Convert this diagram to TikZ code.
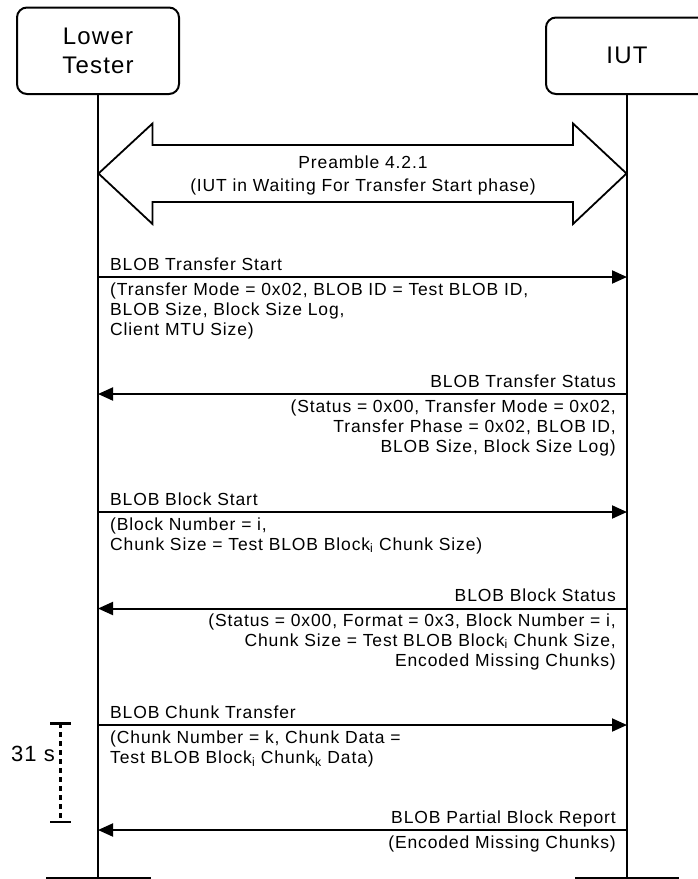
\documentclass[tikz,border=0pt]{standalone}
\usepackage{fontspec}
\setmainfont{Liberation Sans}[LetterSpace=5]
\usetikzlibrary{arrows.meta}
\newcommand\sbs[1]{\textsubscript{#1}}
\begin{document}
\begin{tikzpicture}[x=1pt,y=-1pt,
  entity/.style={draw,line width=2pt,rounded corners=10pt,inner sep=0pt,
    align=center,font=\fontsize{24}{29.3}\selectfont},
  lifeline/.style={line width=2pt},
  msgarrow/.style={line width=2pt,-{Triangle[length=15pt,width=13pt]}},
  lbl/.style={inner sep=0pt,font=\fontsize{17.5}{20}\selectfont},
  bar/.style={line width=2.6pt},
  timerline/.style={line width=2.4pt,dash pattern=on 5pt off 4pt},
  timercap/.style={line width=2.4pt}]
\useasboundingbox (0,0) rectangle (698,879);
\fill[white] (0,0) rectangle (698,879);
% entities
\node[entity,minimum width=162pt,minimum height=86.5pt] (lt) at (98,50.75) {Lower\\Tester};
\node[entity,minimum width=162pt,minimum height=76.5pt] (iut) at (627,55.75) {IUT};
\coordinate (ltend) at (98,879);
\coordinate (iutend) at (627,879);
\draw[lifeline] (lt.south) -- (ltend);
\draw[lifeline] (iut.south) -- (iutend);
% bottom bars
\coordinate (lb1) at (46,878.3); \coordinate (lb2) at (151,878.3);
\coordinate (rb1) at (575,878.3); \coordinate (rb2) at (679,878.3);
\draw[bar] (lb1) -- (lb2);
\draw[bar] (rb1) -- (rb2);
% preamble double arrow
\draw[line width=1.8pt,line join=miter] (98.5,173.5) -- (152.5,123.5) -- (152.5,145) -- (573,145) -- (573,123.5)
  -- (626.5,173.5) -- (573,224) -- (573,202) -- (152.5,202) -- (152.5,224) -- cycle;
\node[lbl,anchor=base] (pre) at (363,168.5) {\begin{tabular}[t]{@{}c@{}}Preamble 4.2.1\\[3pt](IUT in Waiting For Transfer Start phase)\end{tabular}};
% message 1
\coordinate (m1l) at (98,277); \coordinate (m1r) at (627,277);
\draw[msgarrow] (m1l) -- (m1r);
\node[lbl,anchor=base west] (m1t) at (110,270) {BLOB Transfer Start};
\node[lbl,anchor=base west] (m1p) at (110,295.5) {\begin{tabular}[t]{@{}l@{}}(Transfer Mode = 0x02, BLOB ID = Test BLOB ID,\\BLOB Size, Block Size Log,\\Client MTU Size)\end{tabular}};
% message 2
\coordinate (m2l) at (98,394); \coordinate (m2r) at (627,394);
\draw[msgarrow] (m2r) -- (m2l);
\node[lbl,anchor=base east] (m2t) at (616,387) {BLOB Transfer Status};
\node[lbl,anchor=base east] (m2p) at (616,412) {\begin{tabular}[t]{@{}r@{}}(Status = 0x00, Transfer Mode = 0x02,\\Transfer Phase = 0x02, BLOB ID,\\BLOB Size, Block Size Log)\end{tabular}};
% message 3
\coordinate (m3l) at (98,512); \coordinate (m3r) at (627,512);
\draw[msgarrow] (m3l) -- (m3r);
\node[lbl,anchor=base west] (m3t) at (110,505) {BLOB Block Start};
\node[lbl,anchor=base west] (m3p) at (110,530) {\begin{tabular}[t]{@{}l@{}}(Block Number = i,\\Chunk Size = Test BLOB Block\sbs{i} Chunk Size)\end{tabular}};
% message 4
\coordinate (m4l) at (98,608.5); \coordinate (m4r) at (627,608.5);
\draw[msgarrow] (m4r) -- (m4l);
\node[lbl,anchor=base east] (m4t) at (616,601.5) {BLOB Block Status};
\node[lbl,anchor=base east] (m4p) at (616,626) {\begin{tabular}[t]{@{}r@{}}(Status = 0x00, Format = 0x3, Block Number = i,\\Chunk Size = Test BLOB Block\sbs{i} Chunk Size,\\Encoded Missing Chunks)\end{tabular}};
% message 5
\coordinate (m5l) at (98,725); \coordinate (m5r) at (627,725);
\draw[msgarrow] (m5l) -- (m5r);
\node[lbl,anchor=base west] (m5t) at (110,718) {BLOB Chunk Transfer};
\node[lbl,anchor=base west] (m5p) at (110,743.5) {\begin{tabular}[t]{@{}l@{}}(Chunk Number = k, Chunk Data =\\Test BLOB Block\sbs{i} Chunk\sbs{k} Data)\end{tabular}};
% message 6
\coordinate (m6l) at (98,830); \coordinate (m6r) at (627,830);
\draw[msgarrow] (m6r) -- (m6l);
\node[lbl,anchor=base east] (m6t) at (616,823.5) {BLOB Partial Block Report};
\node[lbl,anchor=base east] (m6p) at (616,848) {(Encoded Missing Chunks)};
% timer
\coordinate (tt) at (60.5,723.3); \coordinate (tb) at (60.5,821.7);
\coordinate (tt1) at (50,723.3); \coordinate (tt2) at (71,723.3);
\coordinate (tb1) at (50,821.7); \coordinate (tb2) at (71,821.7);
\draw[timerline] (tt) -- (tb);
\draw[timercap] (tt1) -- (tt2);
\draw[timercap] (tb1) -- (tb2);
\node[inner sep=0pt,anchor=base east,font=\fontsize{22}{25}\selectfont] (tlabel) at (55,761.5) {31 s};
\end{tikzpicture}
\end{document}
